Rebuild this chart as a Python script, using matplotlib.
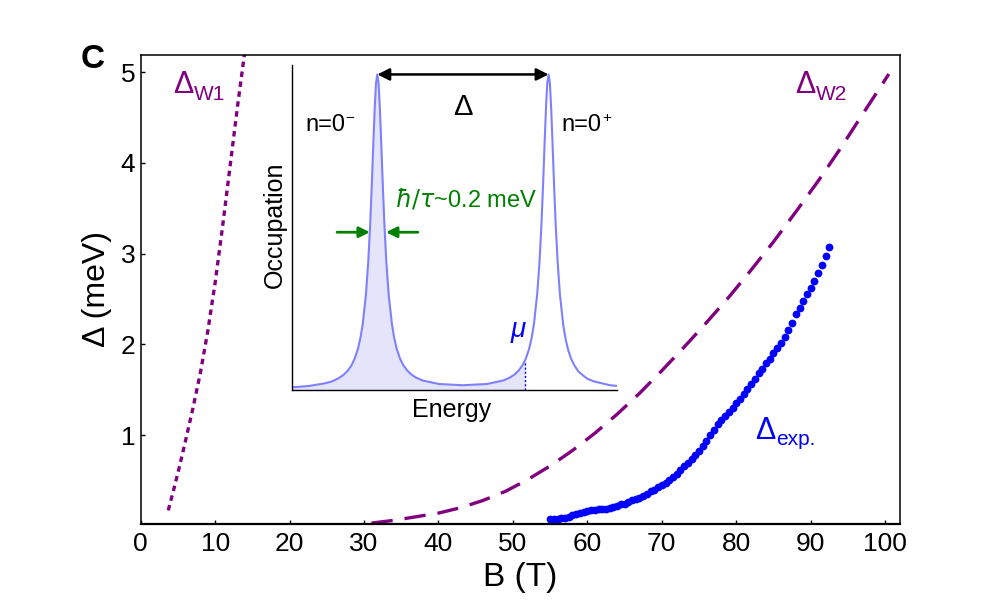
import matplotlib
matplotlib.use("Agg")
import matplotlib.pyplot as plt

plt.rcParams['font.family'] = ['Liberation Sans', 'DejaVu Sans']
plt.rcParams['mathtext.fontset'] = 'dejavusans'

# ---------------- data ----------------
b_w1 = [3.7, 4.5, 5.2, 6.0, 7.0, 8.0, 9.0, 10.0, 11.0, 12.0, 13.0, 14.1]
d_w1 = [0.17, 0.42, 0.65, 0.93, 1.29, 1.68, 2.14, 2.68, 3.30, 3.96, 4.62, 5.30]

b_w2 = [31.0, 34.0, 37.0, 40.0, 43.0, 46.0, 49.0, 52.0, 55.0, 58.0, 61.0, 64.0,
        67.0, 70.0, 73.0, 76.0, 79.0, 82.0, 85.0, 88.0, 91.0, 94.0, 97.0, 100.5]
d_w2 = [0.03, 0.06, 0.10, 0.14, 0.20, 0.28, 0.38, 0.51, 0.66, 0.83, 1.02, 1.23,
        1.46, 1.71, 1.97, 2.24, 2.52, 2.82, 3.13, 3.46, 3.80, 4.16, 4.54, 4.98]

b_exp = [55.0, 55.5, 56.0, 56.5, 57.0, 57.5, 58.0, 58.5, 59.0, 59.5,
         60.0, 60.5, 61.0, 61.5, 62.0, 62.5, 63.0, 63.5, 64.0, 64.5,
         65.0, 65.5, 66.0, 66.5, 67.0, 67.5, 68.0, 68.5, 69.0, 69.5,
         70.0, 70.5, 71.0, 71.5, 72.0, 72.5, 73.0, 73.5, 74.0, 74.5,
         75.0, 75.5, 76.0, 76.5, 77.0, 77.5, 78.0, 78.5, 79.0, 79.5,
         80.0, 80.5, 81.0, 81.5, 82.0, 82.5, 83.0, 83.5, 84.0, 84.5,
         85.0, 85.5, 86.0, 86.5, 87.0, 87.5, 88.0, 88.5, 89.0, 89.5,
         90.0, 90.5, 91.0, 91.5, 92.0, 92.5]
d_exp = [0.08, 0.08, 0.08, 0.085, 0.09, 0.10, 0.115, 0.13, 0.14, 0.155,
         0.165, 0.17, 0.175, 0.18, 0.185, 0.19, 0.20, 0.21, 0.22, 0.235,
         0.245, 0.26, 0.28, 0.295, 0.31, 0.33, 0.355, 0.38, 0.40, 0.425,
         0.45, 0.475, 0.505, 0.54, 0.575, 0.615, 0.655, 0.695, 0.735, 0.78,
         0.825, 0.88, 0.94, 1.00, 1.06, 1.12, 1.17, 1.21, 1.255, 1.30,
         1.35, 1.40, 1.45, 1.51, 1.565, 1.62, 1.68, 1.73, 1.79, 1.84,
         1.90, 1.96, 2.02, 2.08, 2.16, 2.24, 2.33, 2.40, 2.48, 2.55,
         2.62, 2.70, 2.79, 2.87, 2.97, 3.07]

x_ticks = [0, 10, 20, 30, 40, 50, 60, 70, 80, 90, 100]
y_ticks = [1, 2, 3, 4, 5]

# inset: schematic occupation vs energy (arbitrary units)
energy = [0.0, 0.5, 1.0, 1.22, 1.42, 1.57, 1.70, 1.82, 1.92, 2.02, 2.10, 2.17, 2.27, 2.34,
          2.40, 2.45, 2.50, 2.54, 2.58, 2.62, 2.66, 2.70, 2.74, 2.79, 2.84, 2.90, 2.97,
          3.07, 3.14, 3.22, 3.32, 3.42, 3.54, 3.67, 3.82, 4.02, 4.52, 5.26, 6.0, 6.5,
          6.70, 6.85, 6.98, 7.10, 7.17, 7.20, 7.30, 7.38, 7.45, 7.55, 7.62, 7.68, 7.73,
          7.78, 7.82, 7.86, 7.90, 7.94, 7.98, 8.02, 8.07, 8.12, 8.18, 8.25, 8.35, 8.42,
          8.50, 8.60, 8.70, 8.82, 8.95, 9.10, 9.30, 9.80, 10.0]
occupation = [0.0085, 0.0125, 0.021, 0.027, 0.037, 0.047, 0.060, 0.077, 0.099, 0.129, 0.165, 0.208, 0.303, 0.404,
              0.523, 0.648, 0.787, 0.893, 0.972, 1.0, 0.972, 0.893, 0.787, 0.648, 0.523, 0.404, 0.303,
              0.21, 0.166, 0.130, 0.100, 0.079, 0.062, 0.049, 0.039, 0.030, 0.019, 0.015, 0.019, 0.030,
              0.039, 0.049, 0.062, 0.079, 0.093, 0.100, 0.130, 0.166, 0.21, 0.304, 0.405, 0.524, 0.649,
              0.788, 0.894, 0.973, 1.0, 0.972, 0.893, 0.787, 0.648, 0.523, 0.404, 0.303, 0.208, 0.164,
              0.128, 0.0975, 0.077, 0.0588, 0.047, 0.0355, 0.027, 0.015, 0.013]
mu_energy = 7.17
peak_left = 2.62
peak_right = 7.90
peak_height = 1.0
width_level = 0.5
width_arrow_left = [1.38, 2.39]
width_arrow_right = [3.87, 2.89]

PURPLE = '#800080'
BLUE = '#0000ff'
GREEN = '#008000'

# ---------------- figure ----------------
fig = plt.figure(figsize=(10, 6.05), dpi=100)
ax = fig.add_axes([0.1407, 0.1339, 0.7593, 0.7752])

ax.plot(b_w1, d_w1, color=PURPLE, lw=2.4, dashes=(1.65, 1.35), dash_capstyle='butt')
ax.plot(b_w2, d_w2, color=PURPLE, lw=2.4, dashes=(6.4, 3.6), dash_capstyle='butt')
ax.plot(b_exp, d_exp, 'o', color=BLUE, ms=5.6, mec='none')

ax.set_xlim(0, 102)
ax.set_ylim(0.02, 5.19)
ax.set_xticks(x_ticks)
ax.set_yticks(y_ticks)
ax.tick_params(direction='in', length=3, width=1.0, labelsize=19, top=False, right=False)
ax.tick_params(axis='x', pad=6)
ax.tick_params(axis='y', pad=4)
for s in ax.spines.values():
    s.set_linewidth(1.1)
ax.spines['bottom'].set_linewidth(1.6)

fig.text(0.52, 0.045, 'B (T)', fontsize=24, ha='center', va='center')
fig.text(0.097, 0.522, 'Δ (meV)', fontsize=23, ha='center', va='center', rotation=90)
fig.text(0.093, 0.901, 'C', fontsize=24, fontweight='bold', ha='center', va='center')


def sub_label(axis, x, y, main, sub, color, size, subsize, dy=0.0):
    t = axis.text(x, y, main, color=color, fontsize=size, ha='left', va='baseline')
    axis.annotate(sub, xy=(1, 0), xycoords=t, xytext=(0.5, dy), textcoords='offset points',
                  color=color, fontsize=subsize, ha='left', va='baseline')
    return t


sub_label(ax, 4.35, 4.77, 'Δ', 'W1', PURPLE, 22, 15)
sub_label(ax, 87.9, 4.77, 'Δ', 'W2', PURPLE, 22, 15)
sub_label(ax, 82.5, 0.956, 'Δ', 'exp.', BLUE, 22, 15, dy=0.5)

# ---------------- inset ----------------
axi = fig.add_axes([0.2923, 0.3554, 0.3244, 0.5372])
axi.set_facecolor('white')
axi.set_xlim(0, 10)
axi.set_ylim(0, 1.03)
axi.set_xticks([])
axi.set_yticks([])
axi.spines['top'].set_visible(False)
axi.spines['right'].set_visible(False)
axi.spines['left'].set_linewidth(1.0)
axi.spines['bottom'].set_linewidth(1.0)

k = energy.index(mu_energy)
axi.fill_between(energy[:k + 1], occupation[:k + 1], 0, color='#e4e4fa', lw=0)
axi.plot(energy, occupation, color='#8080ff', lw=1.5)
axi.plot([mu_energy, mu_energy], [0, occupation[k]], color=BLUE, lw=1.0, ls=(0, (1.5, 1.5)))

axi.annotate('', xy=(peak_right, peak_height), xytext=(peak_left, peak_height),
             arrowprops=dict(arrowstyle='<|-|>', color='black', lw=1.8,
                             mutation_scale=18, shrinkA=0, shrinkB=0))
axi.annotate('', xy=(width_arrow_left[1], width_level), xytext=(width_arrow_left[0], width_level),
             arrowprops=dict(arrowstyle='-|>', color=GREEN, lw=2.0,
                             mutation_scale=16, shrinkA=0, shrinkB=0))
axi.annotate('', xy=(width_arrow_right[1], width_level), xytext=(width_arrow_right[0], width_level),
             arrowprops=dict(arrowstyle='-|>', color=GREEN, lw=2.0,
                             mutation_scale=16, shrinkA=0, shrinkB=0))

axi.text(5.25, 0.872, 'Δ', fontsize=21, ha='center', va='baseline')


def sup_label(axis, x, y, main, sup, size, supsize):
    t = axis.text(x, y, main, fontsize=size, ha='left', va='baseline')
    axis.annotate(sup, xy=(1, 0), xycoords=t, xytext=(0.3, 13), textcoords='offset points',
                  fontsize=supsize, ha='left', va='center')


sup_label(axi, 0.39, 0.82, 'n=0', '−', 17, 11)
sup_label(axi, 8.30, 0.82, 'n=0', '+', 17, 11)

axi.text(3.17, 0.581, r'$\hbar/\tau$~0.2 meV', fontsize=17, color=GREEN, ha='left', va='baseline')
axi.text(6.96, 0.19, 'μ', fontsize=20, color=BLUE, style='italic', ha='center', va='center')

fig.text(0.275, 0.628, 'Occupation', fontsize=18, ha='center', va='center', rotation=90)
fig.text(0.452, 0.322, 'Energy', fontsize=18, ha='center', va='center')

fig.savefig('out.png', dpi=100)
